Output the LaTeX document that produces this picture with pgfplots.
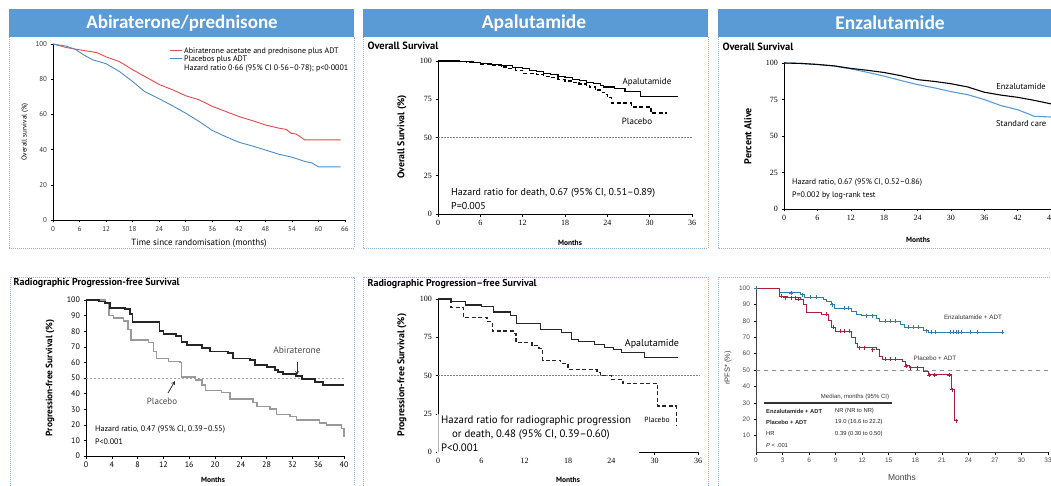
\documentclass[border=0pt]{standalone}
\usepackage{pgfplots}
\pgfplotsset{compat=1.18}
\usepackage{fontspec}
\setmainfont{PT Sans}
\newfontfamily\hdrf{Carlito}
\newfontfamily\serf{Liberation Serif}
\newfontfamily\jco{Liberation Sans}
\newcommand\fs[1]{\fontsize{#1}{#1}\selectfont}
\definecolor{hdrblue}{HTML}{5B9BD5}
\definecolor{boxblue}{HTML}{8DB4E2}
\definecolor{lred}{HTML}{E8474C}
\definecolor{lblue}{HTML}{4A8CC8}
\definecolor{eblue}{HTML}{5B9BD5}
\definecolor{jteal}{HTML}{2A7FAE}
\definecolor{jred}{HTML}{B01E3C}
\definecolor{pgray}{HTML}{9A9A9A}
\pgfplotsset{
  km/.style={scale only axis, anchor=south west, axis lines=left, axis line style={-, line width=0.6pt},
    tick align=outside, major tick length=2.5pt, tick style={line width=0.5pt,black},
    clip=false, /pgf/number format/assume math mode=true, ymin=0, ymax=100},
}
\begin{document}
\begin{tikzpicture}[x=1pt,y=1pt]
\path[use as bounding box] (0,0) rectangle (1051,485);
\clip (0,0) rectangle (1051,485);
\fill[white] (0,0) rectangle (1051,485);
% ---------- frames ----------
\begin{scope}[boxblue, line width=0.6pt, dash pattern=on 1pt off 1pt]
\draw (9.5,448) -- (9.5,237) -- (354,237) -- (354,448);
\draw (363,448) -- (363,237) -- (708,237) -- (708,448);
\draw (718,448) -- (718,237) -- (1060,237);
\draw (10,-5) -- (10,208) -- (354,208) -- (354,-5);
\draw (363,-5) -- (363,208) -- (708,208) -- (708,-5);
\draw (718,-5) -- (718,208) -- (1060,208);
\end{scope}
\fill[hdrblue] (9,448) rectangle (354,476);
\fill[hdrblue] (363,448) rectangle (708,476);
\fill[hdrblue] (718,448) rectangle (1060,476);
\node[text=white, font=\hdrf\bfseries\fs{19}] at (182,462) {Abiraterone/prednisone};
\node[text=white, font=\hdrf\bfseries\fs{19.5}] at (534,462) {Apalutamide};
\node[text=white, font=\hdrf\bfseries\fs{19.5}] at (890,462) {Enzalutamide};

% ---------- Panel 1 ----------
\begin{axis}[km, at={(53pt,265pt)}, width=292pt, height=176pt, xmin=0, xmax=66,
  xtick={0,6,...,66}, ytick={0,20,...,100}, ticklabel style={font=\fs{7}, text=black!80}]
\addplot[lred, line width=0.9pt] coordinates {(0,100)(3,98)(6,96.7)(9,95.5)(10,95)(12,92.7)(15,90)(18,85.4)(21,81.2)(24,77)(27,74)(30,70.6)(33,68.3)(36,64.6)(39,61.7)(42,58.8)(45,56.5)(48,54)(51,52.2)(52.7,51.5)(53.8,49.3)(55,48.8)(56.9,45.5)(60,45.5)(65,45.5)};
\addplot[lblue, line width=0.9pt] coordinates {(0,100)(3,98.8)(5,97)(6.8,94)(9,91)(12,88.8)(15,84.4)(18,78.7)(20.7,73)(24,68.9)(27,64.9)(30,60.7)(33,56)(36,50.9)(39,47.4)(42,44.2)(45,42.1)(48,39.8)(51,37.4)(54,35.7)(57,33.2)(58.5,32.5)(60,30.2)(65,30.2)};
\end{axis}
\draw[lred, line width=1pt] (170,434) -- (182,434);
\draw[lblue, line width=1pt] (170,426) -- (182,426);
\node[anchor=west, font=\fs{8}, inner sep=0] at (184,434) {Abiraterone acetate and prednisone plus ADT};
\node[anchor=west, font=\fs{8}, inner sep=0] at (184,426) {Placebos plus ADT};
\node[anchor=west, font=\fs{8}, inner sep=0] at (184,416) {Hazard ratio 0·66 (95\% CI 0·56–0·78); p<0·0001};
\node[rotate=90, font=\fs{7}] at (25,353) {Overall survival (\%)};
\node[font=\fs{9}] at (199,242) {Time since randomisation (months)};

% ---------- Panel 2 ----------
\begin{axis}[km, at={(438pt,271pt)}, width=254pt, height=153pt, xmin=0, xmax=36,
  xtick={0,6,...,36}, ytick={0,25,50,75,100}, ticklabel style={font=\serf\fs{8}}]
\addplot[gray, line width=0.5pt, dash pattern=on 1.5pt off 1.5pt] coordinates {(0,50)(36,50)};
\addplot[const plot, black, line width=1.1pt] coordinates {(0,100)(3,99.5)(5,99)(6,98.5)(7.5,97.5)(9,97)(10.5,96)(12,95)(13,94)(14,93)(15,92)(16,91)(17,90)(18,89)(19,88)(20,87)(21,86)(22,85)(23,84)(23.5,83)(25,82)(26.5,80)(28.7,77)(34,77)};
\addplot[const plot, black, line width=1.3pt, dash pattern=on 4pt off 2.5pt] coordinates {(0,100)(2,99.5)(4,99)(6,98)(7.5,97)(9,96)(10,95)(11,94)(12,92)(14,91)(15,90)(16,89)(17,88)(18,87)(19,86)(20,85)(21,84)(21.5,83)(22.3,81)(23,79.5)(23.6,78)(24,76)(24.6,72.5)(27.4,70)(30.2,66)(32.5,66)};
\end{axis}
\node[anchor=west, font=\bfseries\fs{10.5}] at (364,439) {Overall Survival};
\node[rotate=90, font=\bfseries\fs{9.8}] at (402,348) {Overall Survival (\%)};
\node[font=\bfseries\fs{7.5}] at (570,242) {Months};
\node[font=\fs{9}] at (647,403) {Apalutamide};
\node[font=\fs{9}] at (637,364) {Placebo};
\node[anchor=west, font=\fs{10}, inner sep=0] at (451,292) {Hazard ratio for death, 0.67 (95\% CI, 0.51–0.89)};
\node[anchor=west, font=\fs{10}, inner sep=0] at (451,279) {P=0.005};

% ---------- Panel 3 ----------
\begin{axis}[km, at={(784pt,276pt)}, width=267pt, height=146pt, xmin=0, xmax=48,
  xtick={0,6,...,48}, ytick={0,25,50,75,100}, ticklabel style={font=\serf\fs{8}}]
\addplot[eblue, line width=1.1pt] coordinates {(0,100)(3,99.7)(6,99)(9,98)(12,96)(15,93.6)(18,91)(21,88)(24,85.2)(27,83)(30,80.4)(33,78.3)(36,75)(39,70.8)(42,68)(45,63.5)(48,63)};
\addplot[black, line width=1.1pt] coordinates {(0,100)(3,99.7)(6,99)(9,98)(12,96.3)(15,95)(18,93.5)(21,91.3)(24,88.6)(27,87.4)(30,85.8)(33,83.6)(36,80)(39,78)(42,76.5)(45,74.4)(48,72)};
\end{axis}
\node[anchor=west, font=\bfseries\fs{10.5}] at (719,438) {Overall Survival};
\node[rotate=90, font=\bfseries\fs{10}] at (748,349) {Percent Alive};
\node[font=\bfseries\fs{7.5}] at (918,245) {Months};
\node[font=\fs{8.5}] at (1021,398) {Enzalutamide};
\node[anchor=west, font=\fs{8.5}, inner sep=0] at (996,361) {Standard care};
\node[anchor=west, font=\fs{8}, inner sep=0] at (792,302) {Hazard ratio, 0.67 (95\% CI, 0.52–0.86)};
\node[anchor=west, font=\fs{8}, inner sep=0] at (792,289) {P=0.002 by log-rank test};

% ---------- Panel 4 ----------
\begin{axis}[km, at={(86pt,29pt)}, width=258pt, height=156pt, xmin=0, xmax=40,
  xtick={0,4,...,40}, ytick={0,10,...,100}, ticklabel style={font=\fs{8}}]
\addplot[black!35, line width=0.7pt, dash pattern=on 2pt off 2pt] coordinates {(0,50)(40,50)};
\addplot[const plot, pgray, line width=1.5pt] coordinates {(0,100)(3,98)(3.6,90)(4.3,88.5)(5.8,86.5)(6.5,81)(7,74.4)(9.7,72.6)(10.5,67)(10.9,62.6)(12.8,60.5)(14.6,60)(14.8,50.5)(17,48.7)(18,45.5)(18.5,42)(21,40.8)(22.3,36.5)(25.9,34.4)(26.5,31.6)(28.5,30.1)(29.5,26.7)(31.6,25.2)(32.6,23)(36.2,21)(37.3,20)(39.6,17.7)(40,12.4)};
\addplot[const plot, black!85, line width=1.8pt] coordinates {(0,100)(2,99)(3,98)(3.7,95)(6,94)(6.8,91)(7.2,86)(11,86)(11.4,80)(12,78)(14,77)(14.8,73)(15.6,71)(18,69)(19.2,67)(22,66)(22.8,62.5)(25.4,61.5)(26.2,58.5)(28,57.3)(29.3,55)(29.8,54)(30.6,52.5)(32.6,51.5)(33.5,49.5)(35.5,47.5)(36.7,45.5)(40,45.5)};
\end{axis}
\node[anchor=west, font=\bfseries\fs{10}] at (10,202) {Radiographic Progression-free Survival};
\node[rotate=90, font=\bfseries\fs{9.3}] at (50,107) {Progression-free Survival (\%)};
\node[font=\bfseries\fs{7.5}] at (213,5) {Months};
\node[font=\fs{9.5}, text=black!70] at (297,135) {Abiraterone};
\draw[-stealth, line width=0.8pt, black!80] (297,123) -- (297,110);
\node[font=\fs{9}, text=black!70] at (162,84) {Placebo};
\draw[-stealth, line width=0.8pt, black!80] (168,92) -- (175,104);
\node[anchor=west, font=\fs{8}, inner sep=0] at (95,55) {Hazard ratio, 0.47 (95\% CI, 0.39–0.55)};
\node[anchor=west, font=\fs{8}, inner sep=0] at (95,43) {P<0.001};

% ---------- Panel 5 ----------
\begin{axis}[km, at={(438pt,33pt)}, width=260pt, height=153pt, xmin=0, xmax=36,
  xtick={0,6,...,36}, ytick={0,25,50,75,100}, ticklabel style={font=\serf\fs{8}}]
\addplot[gray, line width=0.5pt, dash pattern=on 1.5pt off 1.5pt] coordinates {(0,50)(36.3,50)};
\addplot[const plot, black!85, line width=1.1pt] coordinates {(0,100)(1.9,98.3)(3.8,96.1)(6,95)(7.7,91.5)(10,89.5)(10.9,84)(14.2,80)(17.1,78)(18.5,73.5)(19.4,72)(21.7,70)(23.1,68.2)(24.3,67)(25.4,65.2)(28.6,62)(33.2,62)};
\addplot[const plot, black!85, line width=1.3pt, dash pattern=on 4pt off 2.5pt] coordinates {(0,100)(1.8,94.5)(3.5,88)(6.8,85.5)(7.5,79)(10.5,77.5)(10.8,71.5)(13,69.5)(14,67.8)(14.5,60)(17,58)(18,54)(22,52)(22.5,50)(24,47.5)(25.6,45)(30.4,30)(33,17)};
\end{axis}
\fill[white] (437.6,29.8) rectangle (639,34.5);
\fill[white] (437.3,29.8) rectangle (438.8,71);
\draw[black!30, line width=0.4pt] (438,33) -- (438,71);
\node[anchor=west, font=\bfseries\fs{10}] at (364,201) {Radiographic Progression–free Survival};
\node[rotate=90, font=\bfseries\fs{9.8}] at (402,110) {Progression-free Survival (\%)};
\node[font=\bfseries\fs{7.5}] at (568,5) {Months};
\node[font=\fs{10}] at (652,141) {Apalutamide};
\node[font=\fs{7.5}] at (657,65) {Placebo};
\node[anchor=west, font=\fs{10.8}, inner sep=0] at (441,64) {Hazard ratio for radiographic progression};
\node[anchor=west, font=\fs{10.8}, inner sep=0] at (452,50) {or death, 0.48 (95\% CI, 0.39–0.60)};
\node[anchor=west, font=\fs{10.8}, inner sep=0] at (441,37) {P<0.001};

% ---------- Panel 6 ----------
\begin{axis}[km, at={(756pt,33pt)}, width=292pt, height=164pt, xmin=0, xmax=33,
  axis line style={-, line width=1pt, black!75},
  xtick={0,3,...,33}, ytick={10,20,...,100}, ticklabel style={font=\jco\fs{6.5}, text=black!70}]
\addplot[black!45, line width=1pt, dash pattern=on 4pt off 4pt] coordinates {(0,50)(33,50)};
\addplot[const plot, jteal, line width=0.9pt] coordinates {(0,100)(2.6,97)(5,96)(5.5,94.5)(7.6,93.3)(8,91.8)(8.5,89.8)(8.9,87.8)(10.8,85.8)(11.4,84)(11.9,83)(13.6,81.2)(14,79.8)(16.3,78)(16.8,76)(18.9,74)(19.5,73)(27.8,73)};
\addplot[only marks, mark=+, mark size=2pt, jteal, line width=0.8pt] coordinates {(0,100)(4,97)(5.2,96)(6.2,94.5)(6.8,94.5)(8.6,89.8)(10,87.8)(10.4,87.8)(12.5,83)(13.2,83)(14.6,79.8)(15.2,79.8)(15.8,79.8)(17.2,76)(17.8,76)(18.4,76)(19.2,74)(19.8,73)(20.3,73)(22,73)(22.3,73)(22.6,73)(22.9,73)(23.2,73)(24.2,73)(25,73)(27.8,73)};
\addplot[const plot, jred, line width=0.9pt] coordinates {(0,100)(2.7,95)(3.6,94)(5,93)(5.4,90)(5.7,85)(7.4,84)(8.2,80)(8.5,76)(9,73.5)(10.8,70)(11.2,66)(11.5,63.5)(13.6,62.5)(13.9,58)(14.3,56.5)(16.6,55)(16.9,52.5)(17.3,51.5)(18.9,49)(19.5,47)(22,47)(22.1,38)(22.4,19)(22.6,19)};
\addplot[only marks, mark=+, mark size=2pt, jred, line width=0.8pt] coordinates {(2.9,95)(3.3,94)(4,94)(4.5,94)(4.8,93)(7.9,84)(8.7,76)(9.5,73.5)(10,73.5)(10.5,73.5)(11.7,63.5)(12.3,63.5)(13.2,62.5)(14.6,56.5)(15.2,56.5)(15.8,56.5)(17,52.5)(17.5,51.5)(18.2,51.5)(19.6,47)(20.2,47)(21.8,47)(22.2,38)(22.6,19)};
\end{axis}
\node[rotate=90, font=\jco\fs{7.5}, text=black!75] at (728,117) {rPFS* (\%)};
\node[font=\jco\fs{8.5}, text=black!75] at (902,8) {Months};
\node[font=\jco\fs{6.3}, text=black!80] at (973,168) {Enzalutamide + ADT};
\node[font=\jco\fs{6.3}, text=black!80] at (935,127) {Placebo + ADT};
\node[font=\jco\fs{6}, text=black!80] at (855,88) {Median, months (95\% CI)};
\draw[black!80, line width=1.1pt] (764,82) -- (892,82);
\begin{scope}[font=\jco\fs{5.8}, text=black!85, inner sep=0]
\node[anchor=west] at (766,74) {\bfseries Enzalutamide + ADT};
\node[anchor=west] at (835,74) {NR (NR to NR)};
\node[anchor=west] at (766,63) {\bfseries Placebo + ADT};
\node[anchor=west] at (835,63) {19.0 (16.6 to 22.2)};
\node[anchor=west] at (766,51) {HR};
\node[anchor=west] at (835,51) {0.39 (0.30 to 0.50)};
\node[anchor=west] at (766,39) {\itshape P\upshape{} < .001};
\end{scope}
\end{tikzpicture}
\end{document}
